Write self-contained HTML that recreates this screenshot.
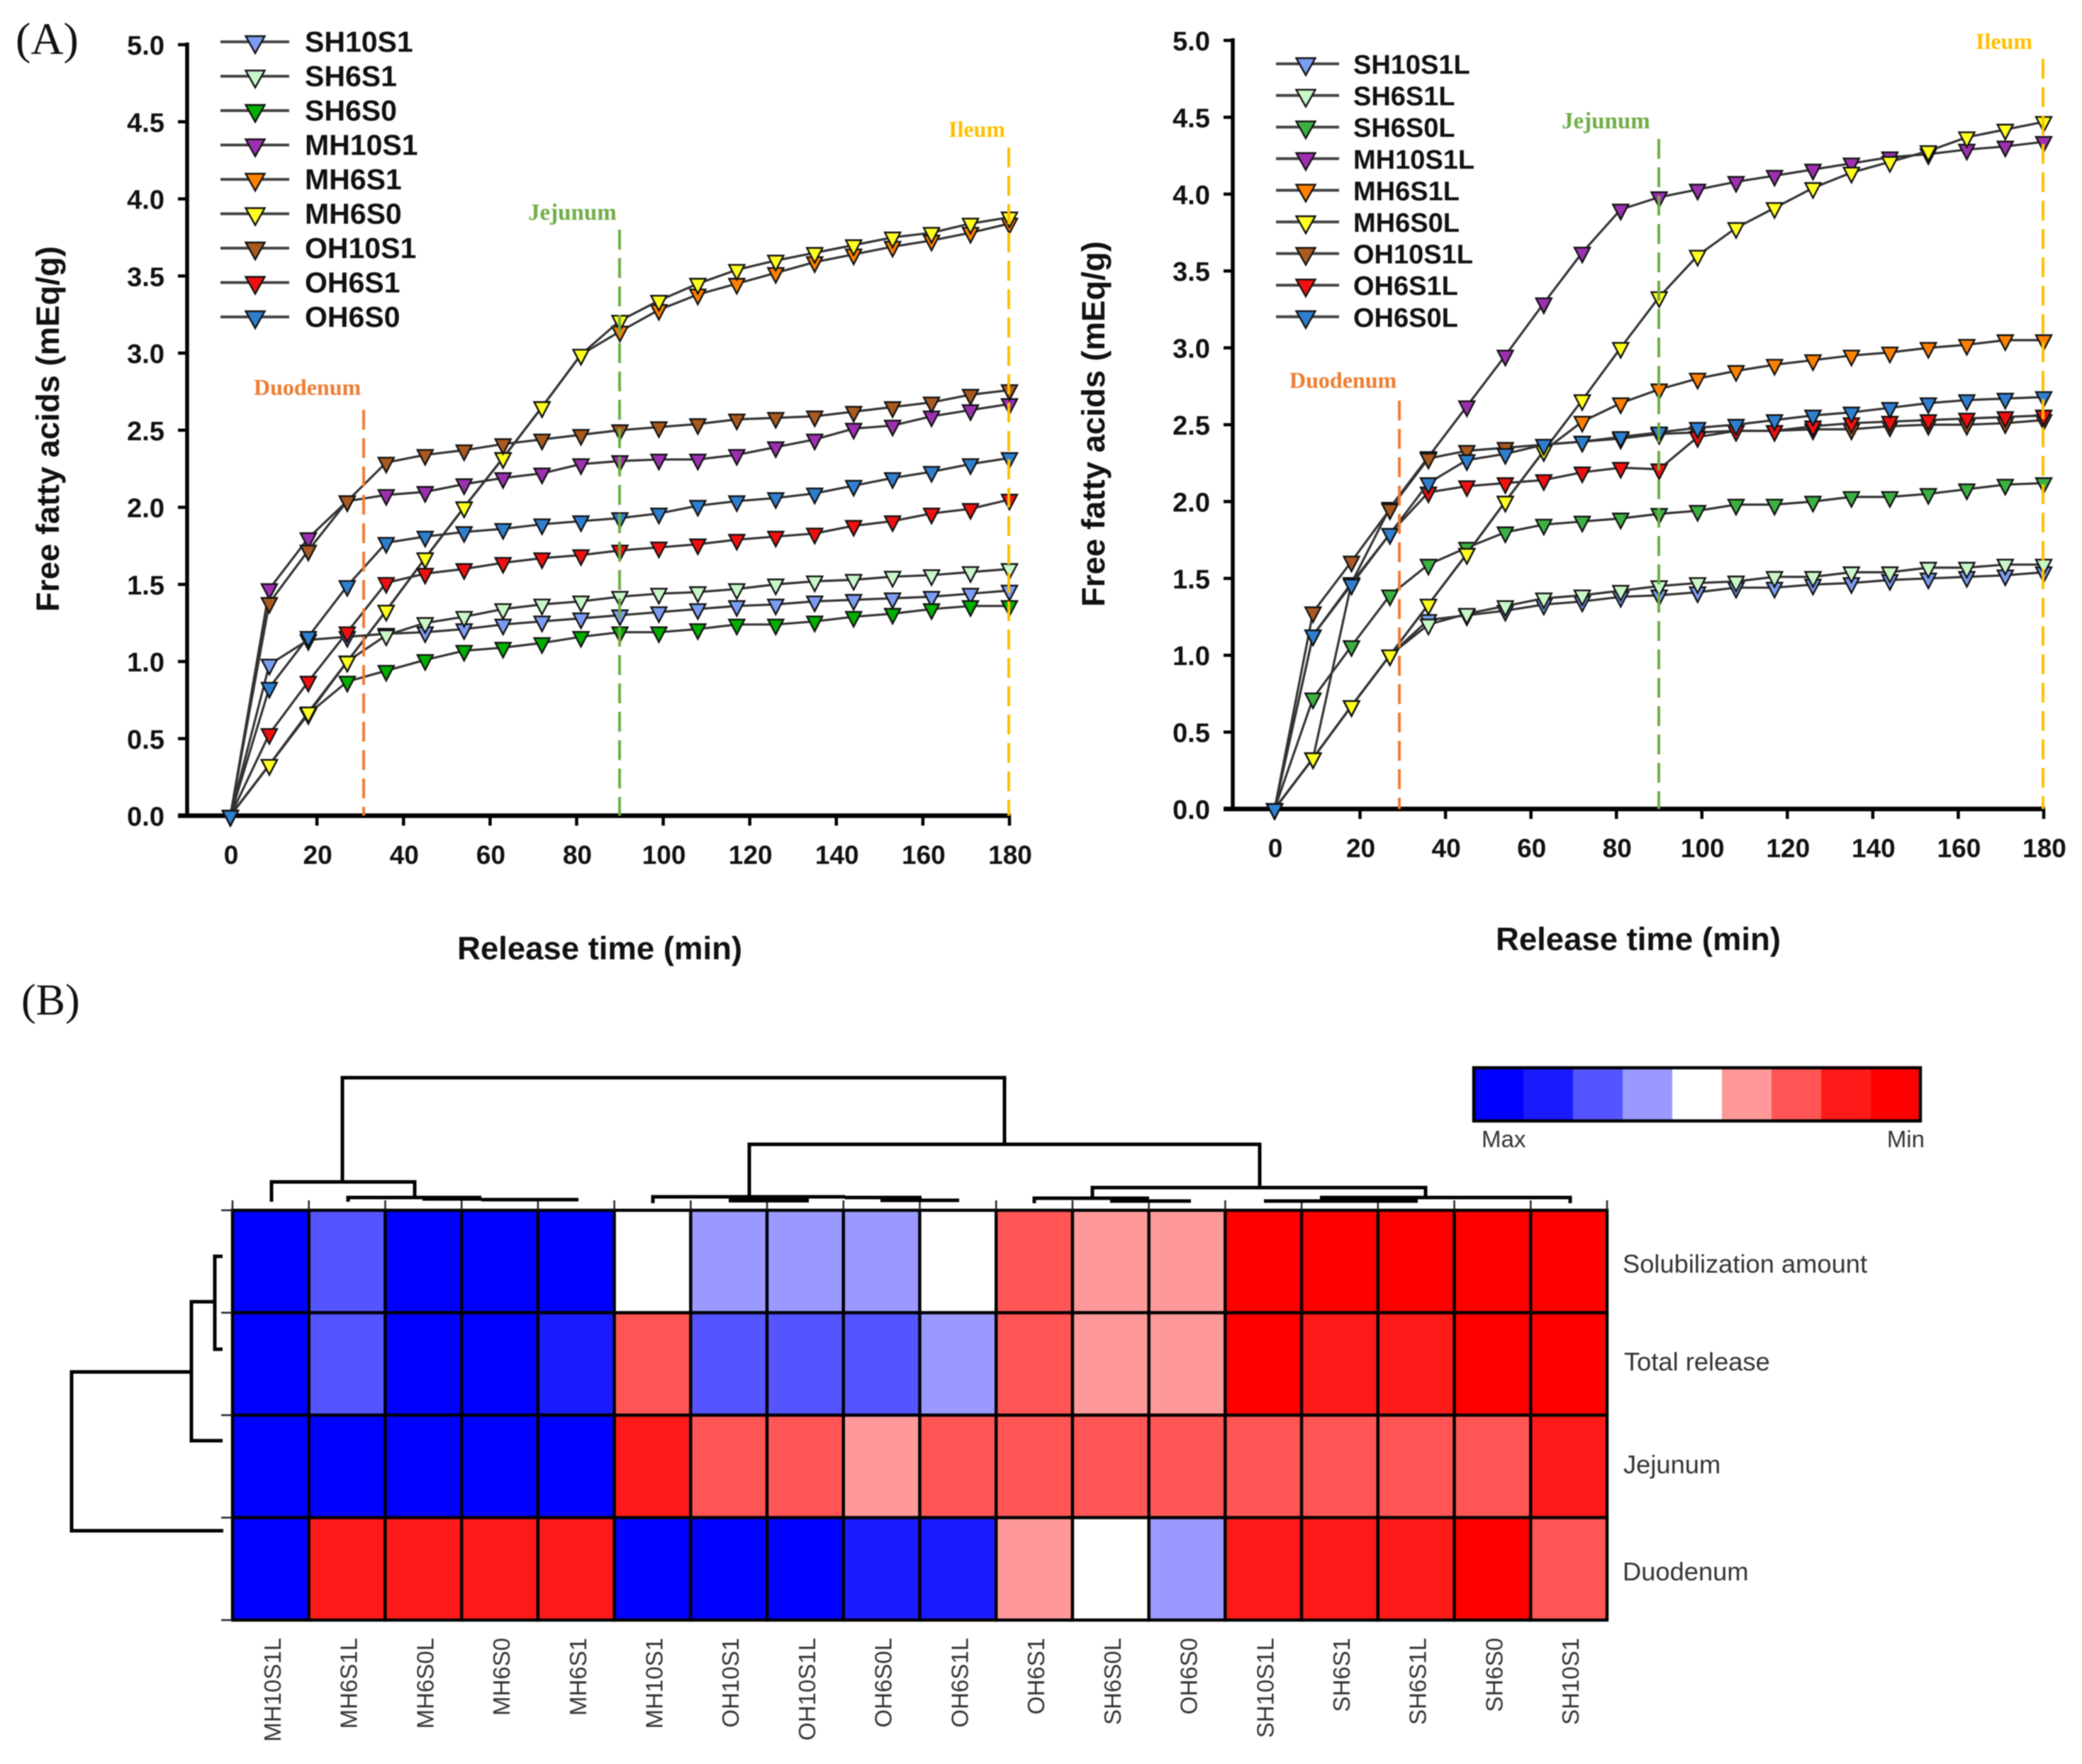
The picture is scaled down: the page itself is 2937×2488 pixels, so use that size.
<!DOCTYPE html>
<html lang="en">
<head>
<meta charset="utf-8">
<title>Free fatty acid release and heatmap</title>
<style>
html,body{margin:0;padding:0;background:#fff;}
svg{display:block;filter:blur(0.7px);}
text{font-family:"Liberation Sans",Arial,sans-serif;}
.serif{font-family:"Liberation Serif","Times New Roman",serif;}
</style>
</head>
<body>
<svg id="figure" xmlns="http://www.w3.org/2000/svg" width="2937" height="2488" viewBox="0 0 2937 2488">
  <rect x="0" y="0" width="2937" height="2488" fill="#fff"/>
  <text class="serif" x="22" y="76" font-size="64" fill="#111">(A)</text>
  <text class="serif" x="30" y="1431" font-size="62" fill="#111">(B)</text>
  <g id="chartA"></g>
  <g id="chartB"></g>
  <g id="heat"></g>
  <g fill="none" stroke="#000" stroke-width="5">
    <path d="M483 1667V1520H1417V1614"/>
    <path d="M383 1695V1667H585V1689"/>
    <path d="M491 1695V1689H679M596 1691H679M679 1692H816" />
    <path d="M1057 1688V1614H1777V1675"/>
    <path d="M921 1697V1688H1192M1192 1689H1300M1242 1693H1353"/>
    <path d="M1028 1692H1141" stroke-width="8"/>
    <path d="M1541 1690V1675H2011V1690"/>
    <path d="M1459 1697V1690H1621M1566 1694H1680"/>
    <path d="M1862 1689H2215V1697M1783 1694H2000"/>
    <path d="M1862 1692H2000" stroke-width="6"/>
  </g>
  <g fill="none" stroke="#000" stroke-width="5">
    <path d="M314 1772H303V1903H314"/>
    <path d="M303 1836H270V2032H314"/>
    <path d="M270 1935H101V2159H315"/>
  </g>
  <g id="colorbar"></g>
  <text x="2090" y="1618" font-size="33" fill="#333">Max</text>
  <text x="2715" y="1618" font-size="33" fill="#333" text-anchor="end">Min</text>
</svg>
<script>
// ----- Release chart data -----
const timePoints = [0,9,18,27,36,45,54,63,72,81,90,99,108,117,126,135,144,153,162,171,180];
const xTickLabels = [0,20,40,60,80,100,120,140,160,180];
const yTickLabels = ["0.0","0.5","1.0","1.5","2.0","2.5","3.0","3.5","4.0","4.5","5.0"];

const namesA = ["SH10S1","SH6S1","SH6S0","MH10S1","MH6S1","MH6S0","OH10S1","OH6S1","OH6S0"];
const sh10s1 = [0,.98,1.14,1.16,1.18,1.19,1.21,1.24,1.26,1.28,1.30,1.32,1.34,1.36,1.37,1.39,1.40,1.41,1.42,1.44,1.46];
const sh6s1  = [0,.33,.66,1.0,1.17,1.25,1.29,1.34,1.37,1.39,1.42,1.44,1.45,1.47,1.50,1.52,1.53,1.55,1.56,1.58,1.60];
const sh6s0  = [0,.33,.66,.87,.94,1.01,1.07,1.09,1.12,1.16,1.19,1.19,1.21,1.24,1.24,1.26,1.29,1.31,1.34,1.36,1.36];
const mh10s1 = [0,1.47,1.80,2.04,2.08,2.10,2.15,2.19,2.22,2.28,2.30,2.31,2.31,2.34,2.39,2.44,2.51,2.53,2.59,2.63,2.67];
const mh6s1  = [0,.33,.67,1.0,1.33,1.67,2.0,2.32,2.65,2.99,3.14,3.28,3.38,3.45,3.52,3.59,3.64,3.69,3.73,3.78,3.84];
const mh6s0  = [0,.33,.67,1.0,1.33,1.67,2.0,2.32,2.65,2.99,3.21,3.34,3.45,3.54,3.60,3.65,3.70,3.75,3.78,3.84,3.88];
const oh10s1 = [0,1.38,1.72,2.04,2.29,2.34,2.37,2.41,2.44,2.47,2.50,2.52,2.54,2.57,2.58,2.59,2.62,2.65,2.68,2.73,2.76];
const oh6s1  = [0,.53,.87,1.19,1.51,1.57,1.60,1.64,1.67,1.69,1.72,1.74,1.76,1.79,1.81,1.83,1.88,1.91,1.96,1.99,2.05];
const oh6s0  = [0,.83,1.16,1.49,1.77,1.81,1.84,1.86,1.89,1.91,1.93,1.96,2.01,2.04,2.06,2.09,2.14,2.19,2.23,2.28,2.32];

const namesB = ["SH10S1L","SH6S1L","SH6S0L","MH10S1L","MH6S1L","MH6S0L","OH10S1L","OH6S1L","OH6S0L"];
const sh10s1l = [0,.33,.67,1.0,1.23,1.26,1.29,1.33,1.35,1.38,1.39,1.41,1.44,1.44,1.46,1.47,1.49,1.50,1.51,1.52,1.54];
const sh6s1l  = [0,.33,.67,1.0,1.20,1.27,1.32,1.37,1.39,1.42,1.45,1.47,1.48,1.51,1.51,1.54,1.54,1.57,1.57,1.59,1.59];
const sh6s0l  = [0,.72,1.06,1.39,1.59,1.70,1.80,1.85,1.87,1.89,1.92,1.94,1.98,1.98,2.00,2.03,2.03,2.05,2.08,2.11,2.12];
const mh10s1l = [0,.33,1.47,1.96,2.29,2.62,2.95,3.29,3.62,3.90,3.98,4.03,4.08,4.12,4.16,4.20,4.24,4.26,4.29,4.31,4.34];
const mh6s1l  = [0,.33,.67,1.0,1.33,1.66,2.0,2.33,2.52,2.64,2.73,2.80,2.85,2.89,2.92,2.95,2.97,3.00,3.02,3.05,3.05];
const mh6s0l  = [0,.33,.67,1.0,1.33,1.66,2.0,2.33,2.66,3.0,3.33,3.60,3.78,3.91,4.04,4.14,4.21,4.28,4.37,4.42,4.47];
const oh10s1l = [0,1.28,1.61,1.95,2.28,2.33,2.35,2.37,2.39,2.41,2.44,2.45,2.46,2.46,2.47,2.47,2.49,2.50,2.50,2.51,2.53];
const oh6s1l  = [0,1.13,1.47,1.79,2.06,2.10,2.12,2.14,2.19,2.22,2.21,2.42,2.46,2.46,2.49,2.51,2.52,2.53,2.54,2.55,2.56];
const oh6s0l  = [0,1.13,1.46,1.79,2.12,2.27,2.31,2.37,2.39,2.42,2.45,2.48,2.50,2.53,2.56,2.58,2.61,2.64,2.66,2.67,2.68];

const phaseNames = ["Duodenum","Jejunum","Ileum"];
const phaseColors = ["#ed7d31","#70ad47","#ffc000"];
const colorsA = ["#7c9cf4","#c8f7c8","#00b000","#9c30b0","#ff8000","#ffff20","#a85a20","#f01010","#2f7fd0"];
const colorsB = ["#7c9cf4","#c8f7c8","#3cb043","#9c30b0","#ff8000","#ffff20","#a85a20","#f01010","#2f7fd0"];

// ----- Heatmap data (levels 0 = Max ... 8 = Min) -----
const heatColumns = ["MH10S1L","MH6S1L","MH6S0L","MH6S0","MH6S1","MH10S1","OH10S1","OH10S1L","OH6S0L","OH6S1L","OH6S1","SH6S0L","OH6S0","SH10S1L","SH6S1","SH6S1L","SH6S0","SH10S1"];
const heatRows = ["Solubilization amount","Total release","Jejunum","Duodenum"];
const solubilizationLevels = [0,2,0,0,0,4,3,3,3,4,6,5,5,8,8,8,8,8];
const totalReleaseLevels   = [0,2,0,0,1,6,2,2,2,3,6,5,5,8,7,7,8,8];
const jejunumLevels        = [0,0,0,0,0,7,6,6,5,6,6,6,6,6,6,6,6,7];
const duodenumLevels       = [0,7,7,7,7,0,0,0,1,1,5,4,3,7,7,7,8,6];
const palette = ["#0000ff","#1a1aff","#5555ff","#9999ff","#ffffff","#ff9999","#ff5555","#ff1a1a","#ff0000"];

const NS = "http://www.w3.org/2000/svg";
function mk(tag, parent, attrs, txt) {
  const el = document.createElementNS(NS, tag);
  for (const k in attrs) el.setAttribute(k, attrs[k]);
  if (txt !== undefined) el.textContent = txt;
  parent.appendChild(el);
  return el;
}
function tri(cx, cy, up, down, half) {
  return (cx - half) + "," + (cy - up) + " " + (cx + half) + "," + (cy - up) + " " + cx + "," + (cy + down);
}

function drawChart(root, cfg, names, colors, series) {
  const xScale = function (t) { return cfg.x0 + (cfg.x180 - cfg.x0) * t / 180; };
  const yScale = function (v) { return cfg.y0 - cfg.unit * v; };

  // axes
  const yAxis = mk("line", root, {x1: cfg.axisX, x2: cfg.axisX, y1: yScale(5) - 3, y2: cfg.y0, stroke: "#000", "stroke-width": 5.5});
  
  
  const xAxis = mk("line", root, {x1: cfg.axisX - 13, x2: cfg.x180 + 2, y1: cfg.y0, y2: cfg.y0, stroke: "#000", "stroke-width": 6.5});
  
  

  yTickLabels.forEach(function (lab) {
    const v = parseFloat(lab);
    const tick = mk("line", root, {x1: cfg.axisX - 13, x2: cfg.axisX, y1: yScale(v), y2: yScale(v), stroke: "#000", "stroke-width": 4.5});
    
    
    const t = mk("text", root, {x: cfg.axisX - 32, y: yScale(v) + 14, "text-anchor": "end", "font-size": 38, "font-weight": "bold", fill: "#111"}, lab);
    
    
  });
  xTickLabels.forEach(function (v) {
    const tick = mk("line", root, {x1: xScale(v), x2: xScale(v), y1: cfg.y0, y2: cfg.y0 + 14, stroke: "#000", "stroke-width": 4.5});
    
    
    const t = mk("text", root, {x: xScale(v) + 1, y: cfg.y0 + 68, "text-anchor": "middle", "font-size": 37, "font-weight": "bold", fill: "#111"}, String(v));
    
    
  });

  const xTitle = mk("text", root, {x: cfg.xTitleX, y: cfg.xTitleY, "text-anchor": "middle", "font-size": 45.5, "font-weight": "bold", fill: "#111"}, "Release time (min)");
  
  
  const yTitle = mk("text", root, {transform: "translate(" + cfg.yTitleX + "," + cfg.yTitleY + ") rotate(-90)", "text-anchor": "middle", "font-size": 45.5, "font-weight": "bold", fill: "#111"}, "Free fatty acids (mEq/g)");
  
  

  // series
  series.forEach(function (vals, i) {
    const g = mk("g", root, {});
    
    
    const pts = vals.map(function (v, j) { return xScale(timePoints[j]) + "," + yScale(v); }).join(" ");
    const line = mk("polyline", g, {points: pts, fill: "none", stroke: "#333", "stroke-width": 3.2});
    
    
    vals.forEach(function (v, j) {
      const m = mk("polygon", g, {points: tri(xScale(timePoints[j]), yScale(v), 7, 14, 11), fill: colors[i], stroke: "#111", "stroke-width": 2.4, "stroke-linejoin": "miter"});
      
      
    });
  });

  // phase markers
  cfg.phases.forEach(function (p, i) {
    const dash = mk("line", root, {x1: p.x, x2: p.x, y1: p.top, y2: cfg.y0, stroke: phaseColors[i], "stroke-width": 4, "stroke-dasharray": "28 12"});
    
    
    const lab = mk("text", root, {x: p.lx, y: p.ly, "font-size": p.fs, "font-weight": "bold", fill: phaseColors[i], "class": "serif"}, phaseNames[i]);
    
    
  });

  // legend
  names.forEach(function (n, i) {
    const y = cfg.legendY + i * cfg.legendStep;
    const g = mk("g", root, {});
    
    
    mk("line", g, {x1: cfg.legendX1, x2: cfg.legendX2, y1: y, y2: y, stroke: "#444", "stroke-width": 4});
    mk("polygon", g, {points: tri(cfg.legendMark, y, 8, 16, 13.5), fill: colors[i], stroke: "#111", "stroke-width": 2.4});
    mk("text", g, {x: cfg.legendText, y: y + 14, "font-size": cfg.legendFs, "font-weight": "bold", fill: "#111"}, n);
  });
}

drawChart(document.getElementById("chartA"), {
  x0: 325, x180: 1424, y0: 1150.5, unit: 217.5, axisX: 264,
  xTitleX: 846, xTitleY: 1353, yTitleX: 83, yTitleY: 605,
  legendY: 59, legendStep: 48.5, legendX1: 311, legendX2: 408, legendMark: 360, legendText: 430, legendFs: 41,
  phases: [
    {x: 513, top: 578, lx: 358, ly: 557, fs: 32},
    {x: 874, top: 324, lx: 745, ly: 310, fs: 33},
    {x: 1423, top: 208, lx: 1338, ly: 193, fs: 32}
  ]
}, namesA, colorsA, [sh10s1, sh6s1, sh6s0, mh10s1, mh6s1, mh6s0, oh10s1, oh6s1, oh6s0]);

drawChart(document.getElementById("chartB"), {
  x0: 1798, x180: 2883, y0: 1141, unit: 216.8, axisX: 1739,
  xTitleX: 2311, xTitleY: 1340, yTitleX: 1558, yTitleY: 598,
  legendY: 90, legendStep: 44.6, legendX1: 1800, legendX2: 1889, legendMark: 1842, legendText: 1909, legendFs: 38,
  phases: [
    {x: 1974, top: 565, lx: 1819, ly: 547, fs: 32},
    {x: 2340, top: 196, lx: 2203, ly: 181, fs: 33},
    {x: 2882, top: 83, lx: 2787, ly: 69, fs: 32}
  ]
}, namesB, colorsB, [sh10s1l, sh6s1l, sh6s0l, mh10s1l, mh6s1l, mh6s0l, oh10s1l, oh6s1l, oh6s0l]);

// ----- Heatmap -----
(function () {
  const root = document.getElementById("heat");
  const left = 328, right = 2267, top = 1707, bottom = 2285;
  const cw = (right - left) / heatColumns.length, ch = (bottom - top) / heatRows.length;
  const rowLevels = [solubilizationLevels, totalReleaseLevels, jejunumLevels, duodenumLevels];
  const rowLabelX = [2289, 2291, 2290, 2289];
  const rowLabelY = [1795, 1933, 2078, 2229];

  rowLevels.forEach(function (levels, r) {
    levels.forEach(function (lv, c) {
      const cell = mk("rect", root, {x: left + c * cw, y: top + r * ch, width: cw, height: ch, fill: palette[lv], stroke: "#000", "stroke-width": 4.4});
      
      
    });
    const lab = mk("text", root, {x: rowLabelX[r], y: rowLabelY[r], "font-size": 36.3, fill: "#333"}, heatRows[r]);
    
    
  });

  for (let r = 0; r <= heatRows.length; r++) {
    const t = mk("line", root, {x1: left - 16, x2: left, y1: top + r * ch, y2: top + r * ch, stroke: "#222", "stroke-width": 2.5});
    
    
  }
  for (let c = 0; c <= heatColumns.length; c++) {
    const t = mk("line", root, {x1: left + c * cw, x2: left + c * cw, y1: top - 14, y2: top, stroke: "#222", "stroke-width": 2.5});
    
    
  }
  heatColumns.forEach(function (n, c) {
    const cx = left + (c + 0.5) * cw + 14;
    const lab = mk("text", root, {transform: "translate(" + cx + ",2310) rotate(-90)", "text-anchor": "end", "font-size": 33, fill: "#333"}, n);
    
    
  });

  // colour bar
  const bar = document.getElementById("colorbar");
  const bx = 2079, bw = 630, by = 1506, bh = 75;
  palette.forEach(function (col, i) {
    const seg = mk("rect", bar, {x: bx + i * bw / palette.length, y: by, width: bw / palette.length + 0.5, height: bh, fill: col});
    
    
  });
  const frame = mk("rect", bar, {x: bx, y: by, width: bw, height: bh, fill: "none", stroke: "#000", "stroke-width": 4.5});
  
  
})();
</script>
</body>
</html>
